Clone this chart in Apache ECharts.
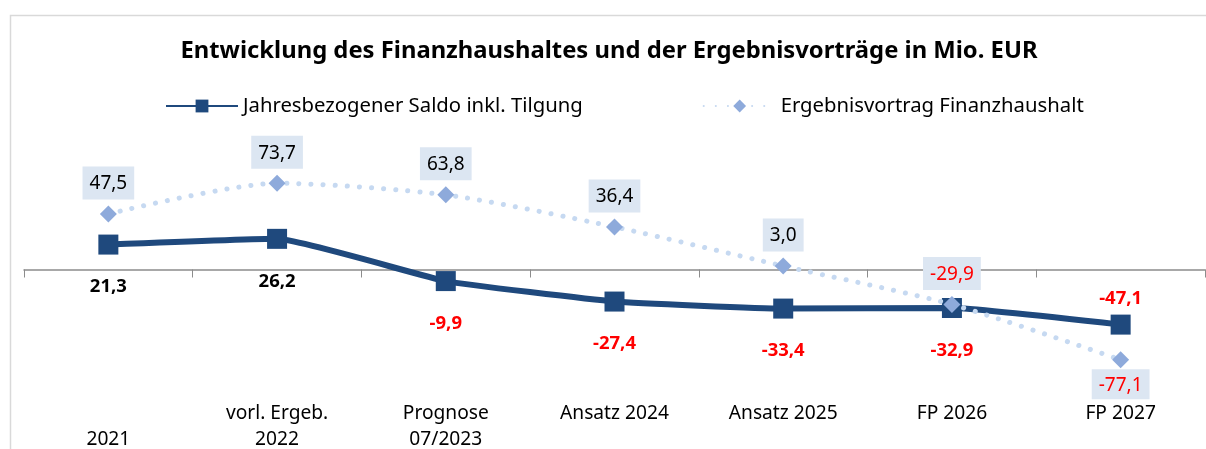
<!DOCTYPE html>
<html>
<head>
<meta charset="utf-8">
<script src="https://cdn.jsdelivr.net/npm/echarts@6/dist/echarts.min.js"></script>
<style>
  html, body { margin: 0; padding: 0; background: #fff; }
  #chart { width: 1206px; height: 449px; }
</style>
</head>
<body>
<div id="chart"></div>
<script>
var categories = ['\n2021', 'vorl. Ergeb.\n2022', 'Prognose\n07/2023', 'Ansatz 2024', 'Ansatz 2025', 'FP 2026', 'FP 2027']
var saldo = [21.3, 26.2, -9.9, -27.4, -33.4, -32.9, -47.1]
var vortrag = [47.5, 73.7, 63.8, 36.4, 3.0, -29.9, -77.1]
var seriesNames = ['Jahresbezogener Saldo inkl. Tilgung', 'Ergebnisvortrag Finanzhaushalt']

var font = 'Noto Sans'
var chart = echarts.init(document.getElementById('chart'))

function fmt(v) {
  return v.toFixed(1).replace('.', ',')
}
function red(v) {
  return v < 0 ? '#ff0000' : '#000'
}

var option = {
  animation: false,
  textStyle: { fontFamily: font },
  graphic: [{
    type: 'rect',
    shape: { x: 10.5, y: 15.5, width: 1220, height: 460 },
    style: { fill: 'none', stroke: '#d9d9d9', lineWidth: 1.5 },
    silent: true
  }],
  title: {
    text: 'Entwicklung des Finanzhaushaltes und der Ergebnisvorträge in Mio. EUR',
    left: 604,
    textAlign: 'center',
    top: 34,
    textStyle: { fontSize: 23.8, fontWeight: 'bold', color: '#000', fontFamily: font }
  },
  legend: {
    left: 160,
    top: 91,
    itemWidth: 72,
    itemHeight: 16,
    itemGap: 120,
    textStyle: { fontSize: 20.3, color: '#000', fontFamily: font },
    data: seriesNames
  },
  grid: { left: 24, right: 1, top: 152.5, height: 234, outerBoundsMode: 'none', containLabel: false },
  xAxis: [{
    type: 'category',
    data: categories,
    axisLine: { onZero: true, lineStyle: { color: '#8c8c8c', width: 1.5 } },
    axisTick: { show: true, length: 8, lineStyle: { color: '#8c8c8c' } },
    axisLabel: { show: false }
  }, {
    type: 'category',
    data: categories,
    position: 'bottom',
    axisLine: { show: false, onZero: false },
    axisTick: { show: false },
    axisLabel: {
      margin: 14,
      fontSize: 19.2,
      lineHeight: 26,
      color: '#000',
      interval: 0,
      fontFamily: font
    }
  }],
  yAxis: {
    type: 'value',
    min: -100,
    max: 100,
    show: false,
    splitLine: { show: false }
  },
  series: [{
    name: seriesNames[1],
    type: 'line',
    data: vortrag,
    smooth: 0.25,
    symbol: 'diamond',
    symbolSize: 17,
    z: 3,
    itemStyle: { color: '#8eaadb' },
    lineStyle: { color: '#c6d9f1', width: 5, type: [0.1, 12], cap: 'round' },
    label: {
      show: true,
      position: 'top',
      distance: 6,
      fontSize: 19,
      backgroundColor: '#dce6f2',
      padding: [8, 7, 6, 7],
      formatter: function (p) { return fmt(p.value) },
      color: '#000'
    }
  }, {
    name: seriesNames[0],
    type: 'line',
    data: saldo,
    smooth: 0.12,
    symbol: 'rect',
    symbolSize: 20,
    z: 2,
    itemStyle: { color: '#1f497d' },
    lineStyle: { color: '#1f497d', width: 6 },
    label: {
      show: true,
      position: 'bottom',
      distance: 23,
      fontSize: 18.5,
      fontWeight: 'bold',
      formatter: function (p) { return fmt(p.value) }
    }
  }]
}

// colours / placement of individual labels
option.series[0].data = vortrag.map(function (v, i) {
  var item = { value: v, label: { color: red(v) } }
  if (i === vortrag.length - 1) {
    item.label.position = 'bottom'
    item.label.distance = 1
    item.label.padding = [7, 7, 4, 7]
  }
  return item
})
option.series[1].data = saldo.map(function (v, i) {
  var item = { value: v, label: { color: red(v) } }
  if (i === saldo.length - 1) {
    item.label.position = 'top'
    item.label.distance = 6
  }
  return item
})

chart.setOption(option)
</script>
</body>
</html>
